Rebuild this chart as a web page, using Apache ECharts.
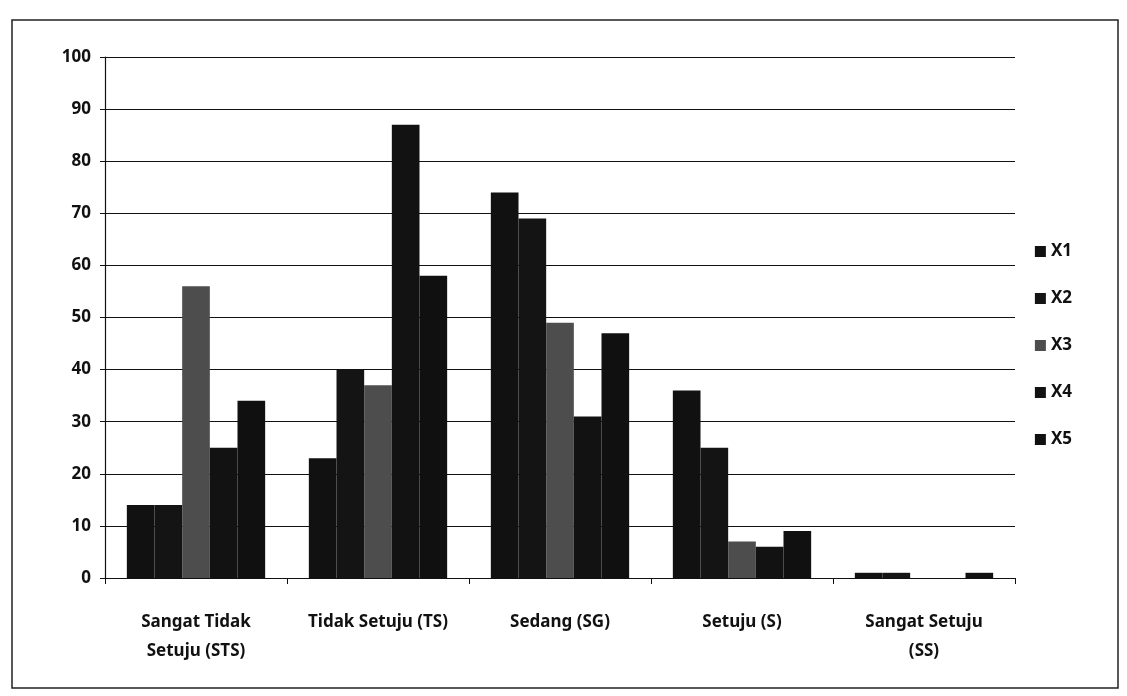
<!DOCTYPE html>
<html>
<head>
<meta charset="utf-8">
<script src="https://cdn.jsdelivr.net/npm/echarts@6/dist/echarts.min.js"></script>
<style>
  html, body { margin: 0; padding: 0; background: #fff; }
  #chart { width: 1127px; height: 696px; }
</style>
</head>
<body>
<div id="chart"></div>
<script>
// Response categories
const categories = ['Sangat Tidak\nSetuju (STS)', 'Tidak Setuju (TS)', 'Sedang (SG)', 'Setuju (S)', 'Sangat Setuju\n(SS)'];

// Percent of respondents per variable
const x1 = [14, 23, 74, 36, 1];
const x2 = [14, 40, 69, 25, 1];
const x3 = [56, 37, 49, 7, 0];
const x4 = [25, 87, 31, 6, 0];
const x5 = [34, 58, 47, 9, 1];

const seriesNames = ['X1', 'X2', 'X3', 'X4', 'X5'];
const seriesData = [x1, x2, x3, x4, x5];
const seriesColors = ['#111111', '#141414', '#4d4d4d', '#121212', '#101010'];

const FONT = 'Noto Sans';

const chart = echarts.init(document.getElementById('chart'));
chart.setOption({
  backgroundColor: '#ffffff',
  textStyle: { fontFamily: FONT },
  graphic: [{
    type: 'rect',
    shape: { x: 12, y: 20, width: 1106, height: 668 },
    style: { fill: 'none', stroke: '#222', lineWidth: 1.5 }
  }],
  grid: { left: 105, right: 112, top: 57, bottom: 118 },
  legend: {
    orient: 'vertical',
    right: 50,
    top: 238,
    itemWidth: 11,
    itemHeight: 11,
    itemGap: 30,
    icon: 'rect',
    textStyle: { fontFamily: FONT, fontSize: 17, fontWeight: 'bold', color: '#111' },
    data: seriesNames
  },
  xAxis: {
    type: 'category',
    data: categories,
    axisLine: { lineStyle: { color: '#111', width: 1.2 } },
    axisTick: { show: true, length: 6, lineStyle: { color: '#111' } },
    axisLabel: {
      interval: 0, margin: 30, lineHeight: 29,
      fontFamily: FONT, fontSize: 17, fontWeight: 'bold', color: '#111'
    }
  },
  yAxis: {
    type: 'value',
    min: 0, max: 100, interval: 10,
    axisLine: { show: true, lineStyle: { color: '#111', width: 1.2 } },
    axisTick: { show: true, length: 5, lineStyle: { color: '#111' } },
    axisLabel: { margin: 14, fontFamily: FONT, fontSize: 17, fontWeight: 'bold', color: '#111' },
    splitLine: { lineStyle: { color: '#111', width: 1.2 } }
  },
  series: seriesNames.map((name, i) => ({
    name: name,
    type: 'bar',
    data: seriesData[i],
    barGap: '0%',
    barCategoryGap: '24%',
    itemStyle: { color: seriesColors[i] }
  }))
});
</script>
</body>
</html>
